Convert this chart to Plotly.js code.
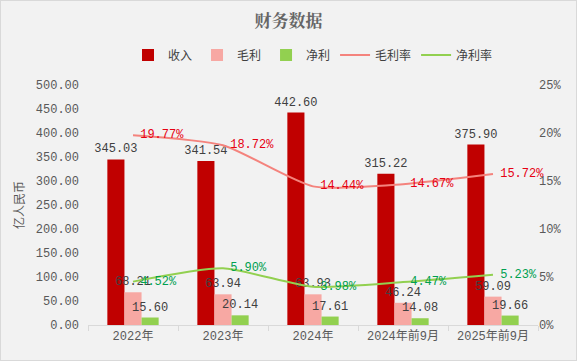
<!DOCTYPE html>
<html>
<head>
<meta charset="utf-8">
<script src="https://cdn.plot.ly/plotly-3.0.1.min.js"></script>
<style>
html,body{margin:0;padding:0;background:#f2f2f2;}
#wrap{position:relative;width:577px;height:361px;}
#chart{width:577px;height:361px;}
#frame{position:absolute;left:0;top:0;width:575px;height:359px;border:1px solid #d9d9d9;pointer-events:none;}
</style>
</head>
<body>
<div id="wrap"><div id="chart"></div><div id="frame"></div></div>
<script>
const categories = ["2022年", "2023年", "2024年", "2024年前9月", "2025年前9月"];
const revenue = [345.03, 341.54, 442.60, 315.22, 375.90];
const grossProfit = [68.21, 63.94, 63.93, 46.24, 59.09];
const netProfit = [15.60, 20.14, 17.61, 14.08, 19.66];
const grossMargin = [19.77, 18.72, 14.44, 14.67, 15.72];
const netMargin = [4.52, 5.90, 3.98, 4.47, 5.23];

const FONT = "Liberation Mono, Noto Sans CJK SC, sans-serif";
const labelFont = {family: FONT, size: 12, color: "#404040"};

function barTrace(name, vals, color) {
  return {
    type: "bar", name: name, x: categories, y: vals,
    marker: {color: color},
    texttemplate: "%{y:.2f}", textposition: "outside",
    textfont: labelFont, cliponaxis: false, constraintext: "none"
  };
}
function lineTrace(name, vals, color, textColor) {
  return {
    type: "scatter", mode: "lines+text", name: name, x: categories, y: vals,
    yaxis: "y2",
    line: {color: color, width: 2, shape: "spline", smoothing: 0.6},
    texttemplate: "\u00a0%{y:.2f}%", textposition: "middle right",
    textfont: {family: FONT, size: 12, color: textColor},
    cliponaxis: false
  };
}

const data = [
  barTrace("收入", revenue, "#c00000"),
  barTrace("毛利", grossProfit, "#f7a8a3"),
  barTrace("净利", netProfit, "#92d050"),
  lineTrace("毛利率", grossMargin, "#f4837d", "#e60012"),
  lineTrace("净利率", netMargin, "#92d050", "#00a050")
];

const layout = {
  width: 577, height: 361,
  margin: {l: 88, r: 39, t: 85, b: 36},
  paper_bgcolor: "#f2f2f2", plot_bgcolor: "#f2f2f2",
  font: {family: FONT, size: 12, color: "#595959"},
  title: {text: "<b>财务数据</b>", x: 0.5, xanchor: "center", y: 0.942, yanchor: "middle",
          font: {family: "Noto Serif CJK SC, Noto Sans CJK SC, serif", size: 17, color: "#666666"}},
  barmode: "group", bargap: 0.43, bargroupgap: 0,
  showlegend: true,
  legend: {orientation: "h", x: 0.5, xanchor: "center", y: 1.125, yanchor: "middle",
           font: {family: "Noto Sans CJK SC, sans-serif", size: 12, color: "#404040"},
           itemwidth: 30, tracegroupgap: 0, bgcolor: "rgba(0,0,0,0)"},
  xaxis: {type: "category", showgrid: false, showline: true, linecolor: "#d9d9d9",
          ticks: "outside", tickson: "boundaries", ticklen: 5, tickcolor: "#d9d9d9",
          tickfont: {family: FONT, size: 12, color: "#595959"}, zeroline: false},
  yaxis: {range: [0, 500], dtick: 50, tickformat: ".2f", showgrid: false, zeroline: false,
          showline: false, ticks: "", ticklabelstandoff: 8,
          tickfont: {family: FONT, size: 12, color: "#595959"},
          title: {text: "亿人民币", standoff: 8, font: {family: "Noto Sans CJK SC, sans-serif", size: 12, color: "#595959"}}},
  yaxis2: {overlaying: "y", side: "right", range: [0, 25], dtick: 5, ticksuffix: "%",
           showgrid: false, zeroline: false, showline: false, ticks: "",
           tickfont: {family: FONT, size: 12, color: "#595959"}},
  hovermode: false
};

Plotly.newPlot("chart", data, layout, {displayModeBar: false, staticPlot: true});
</script>
</body>
</html>
